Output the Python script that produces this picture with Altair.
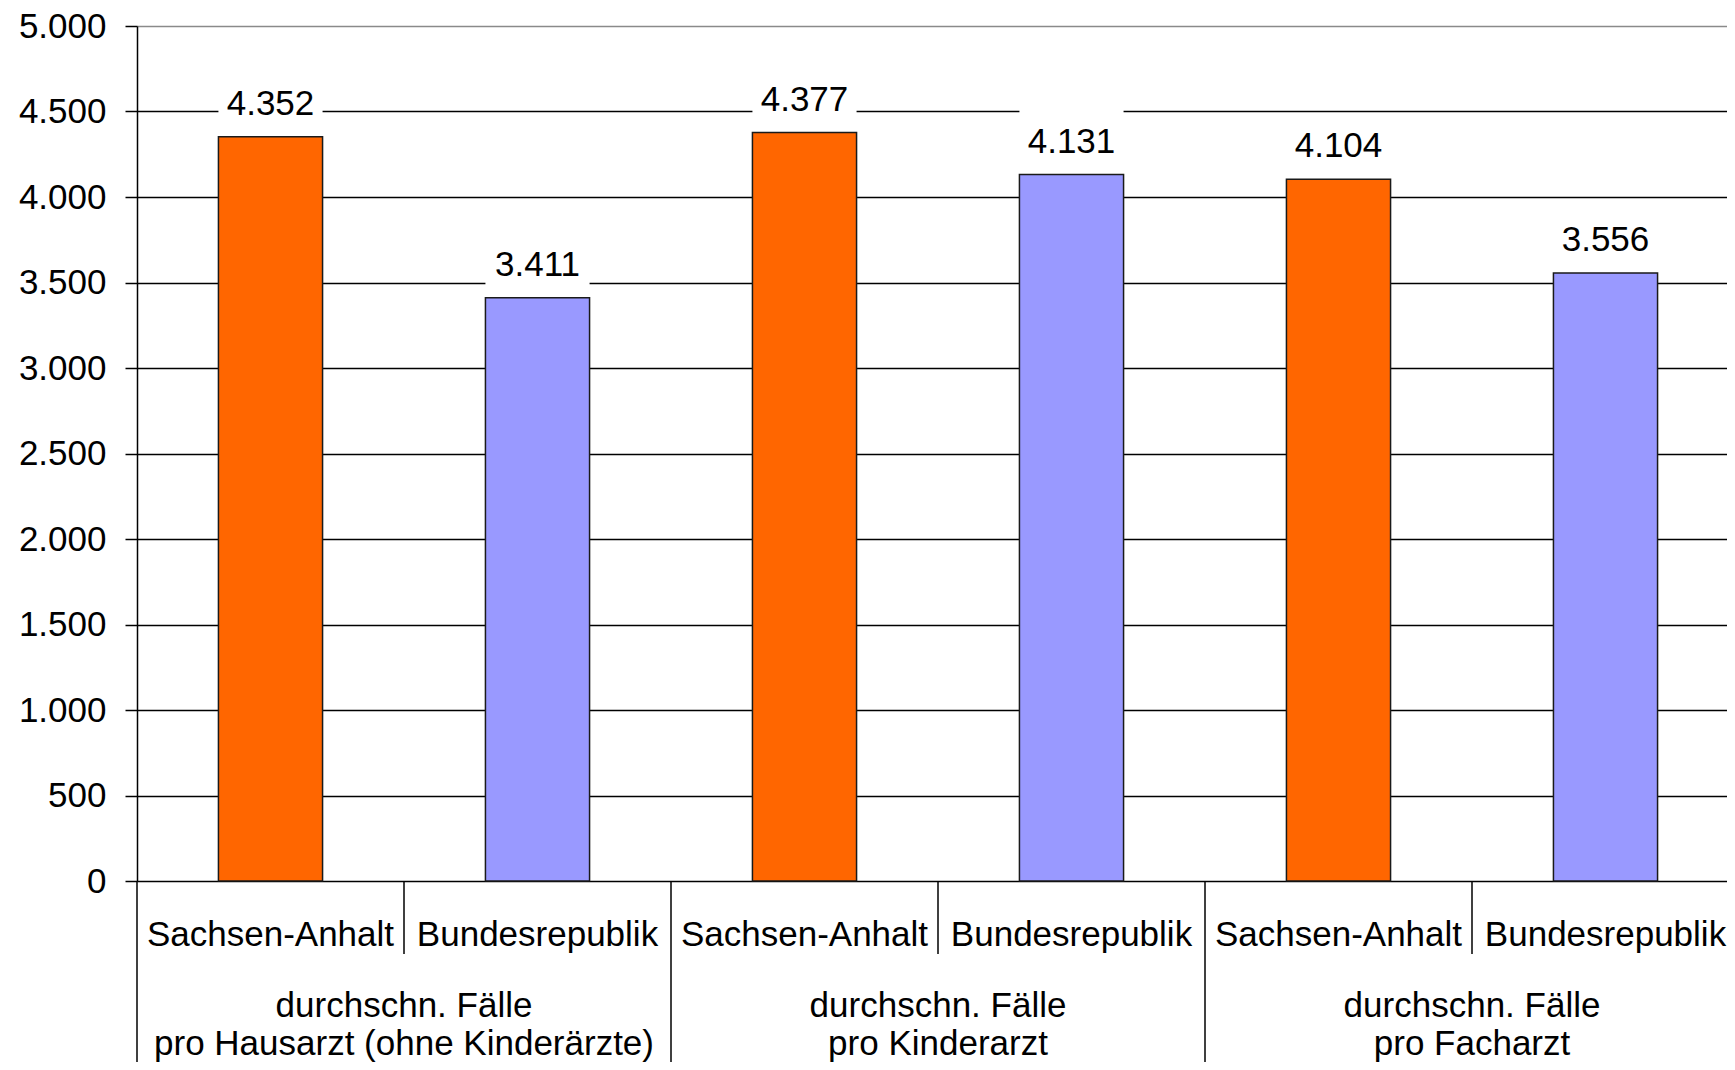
import altair as alt
import pandas as pd

# ---- data ----
groups = [
    "durchschn. Fälle\npro Hausarzt (ohne Kinderärzte)",
    "durchschn. Fälle\npro Kinderarzt",
    "durchschn. Fälle\npro Facharzt",
]
regions = ["Sachsen-Anhalt", "Bundesrepublik"]
sachsen_anhalt = [4352, 4377, 4104]
bundesrepublik = [3411, 4131, 3556]
region_colors = ["#FF6600", "#9999FF"]
y_ticks = [0, 500, 1000, 1500, 2000, 2500, 3000, 3500, 4000, 4500, 5000]

# ---- tables ----
rows = []
for gi, g in enumerate(groups):
    for ri, (r, vals) in enumerate(zip(regions, [sachsen_anhalt, bundesrepublik])):
        rows.append({"key": f"{gi}-{ri}", "group": g, "region": r, "value": vals[gi]})
df = pd.DataFrame(rows)
keys = list(df["key"])

group_df = pd.DataFrame({"key": [f"{gi}-1" for gi in range(len(groups))], "group": groups})
inner_df = pd.DataFrame({"key": [f"{gi}-1" for gi in range(len(groups))]})
outer_df = pd.DataFrame({"key": [f"{gi}-0" for gi in range(len(groups))]})

# visible plot area (the chart runs on past the right edge, as in the reference)
W, H = 1590, 855
X_RANGE = 1602
FONT = "Liberation Sans"
FS = 35
BAR_FRAC = 0.39

x_scale = alt.Scale(domain=keys, range=[0, X_RANGE], paddingInner=0, paddingOuter=0)
y_scale = alt.Scale(domain=[0, 5000], nice=False, zero=True)
y_axis = alt.Axis(
    values=y_ticks,
    title=None,
    labelExpr="replace(format(datum.value, ','), ',', '.')",
    labelFont=FONT,
    labelFontSize=FS,
    labelColor="black",
    labelPadding=19,
    tickSize=12,
    tickColor="black",
    tickWidth=1.5,
    domainColor="black",
    domainWidth=1.5,
    grid=True,
    gridColor={"condition": {"test": "datum.value === 5000", "value": "#8a8a8a"}, "value": "black"},
    gridWidth=1.3,
)
Y = alt.Y("value:Q", scale=y_scale, axis=y_axis)
X = alt.X("key:N", scale=x_scale, axis=None)
X_edge = alt.X("key:N", scale=x_scale, axis=None, bandPosition=0)

base = alt.Chart(df)

boxes = base.mark_bar(
    color="white", width=alt.RelativeBandSize(BAR_FRAC), yOffset=-65, y2Offset=-10
).encode(x=X, y=Y, y2="value:Q")

bars = base.mark_bar(
    width=alt.RelativeBandSize(BAR_FRAC), stroke="#1a1a1a", strokeWidth=1.5
).encode(
    x=X,
    y=Y,
    color=alt.Color("region:N", scale=alt.Scale(domain=regions, range=region_colors), legend=None),
)

values = base.transform_calculate(
    label="replace(format(datum.value, ','), ',', '.')"
).mark_text(
    baseline="alphabetic", dy=-22, font=FONT, fontSize=FS, color="black"
).encode(x=X, y=Y, text="label:N")

sub_labels = base.mark_text(
    baseline="alphabetic", font=FONT, fontSize=FS, color="black"
).encode(x=X, y=alt.value(H + 64.5), text="region:N")

group_labels = alt.Chart(group_df).mark_text(
    baseline="alphabetic", font=FONT, fontSize=FS, color="black", lineBreak="\n", lineHeight=38
).encode(x=X_edge, y=alt.value(H + 136), text="group:N")

inner_rules = alt.Chart(inner_df).mark_rule(color="black", strokeWidth=1.5).encode(
    x=X_edge, y=alt.value(H), y2=alt.value(H + 73)
)
outer_rules = alt.Chart(outer_df).mark_rule(color="black", strokeWidth=1.5).encode(
    x=X_edge, y=alt.value(H), y2=alt.value(H + 200)
)

chart = alt.layer(
    boxes, bars, values, sub_labels, group_labels, inner_rules, outer_rules
).properties(
    width=W,
    height=H,
    autosize=alt.AutoSizeParams(type="none"),
    padding={"left": 129, "top": 18, "right": 0, "bottom": 181},
    background="white",
).configure_view(stroke=None)

chart.save("out.html", embed_options={"renderer": "svg", "actions": False})
